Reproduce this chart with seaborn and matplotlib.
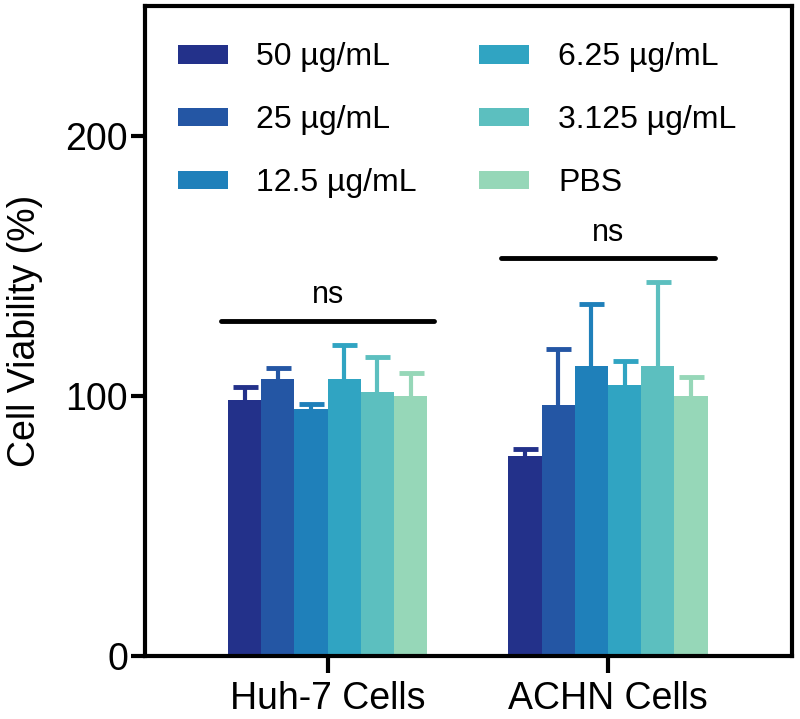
import numpy as np
import pandas as pd
import matplotlib
matplotlib.use("Agg")
import matplotlib.pyplot as plt
import seaborn as sns

# Data
cells = ["Huh-7 Cells", "ACHN Cells"]
conc_labels = ["50 µg/mL", "25 µg/mL", "12.5 µg/mL", "6.25 µg/mL", "3.125 µg/mL", "PBS"]
huh7_mean = [98.6, 106.6, 94.9, 106.6, 101.6, 100.2]
huh7_sd = [5.0, 4.1, 2.1, 13.2, 13.5, 8.5]
achn_mean = [76.8, 96.6, 111.5, 104.2, 111.4, 100.2]
achn_sd = [2.7, 21.4, 23.9, 9.1, 32.6, 7.0]
ns_heights = [129, 153]
colors = ["#23318A", "#2456A4", "#1F80BA", "#30A4C2", "#5CBFBF", "#96D7B8"]

rows = []
for cell, means, sds in [(cells[0], huh7_mean, huh7_sd), (cells[1], achn_mean, achn_sd)]:
    for conc, m, s in zip(conc_labels, means, sds):
        rows.append({"cell": cell, "conc": conc, "viability": m, "sd": s})
df = pd.DataFrame(rows)

sns.set_style("white")
plt.rcParams["font.family"] = ["Liberation Sans", "DejaVu Sans"]
plt.rcParams["text.color"] = "black"
plt.rcParams["axes.labelcolor"] = "black"
plt.rcParams["xtick.color"] = "black"
plt.rcParams["ytick.color"] = "black"

fig = plt.figure(figsize=(8, 7.19), dpi=100)
ax = fig.add_axes([0.181, 0.0876, 0.809, 0.904])

sns.barplot(data=df, x="cell", y="viability", hue="conc", order=cells,
            hue_order=conc_labels, palette=colors, width=0.71, gap=0,
            errorbar=None, saturation=1, linewidth=0, ax=ax)

# upward-only error bars, same colour as each bar
for container, col, conc in zip(ax.containers, colors, conc_labels):
    for bar, cell in zip(container, cells):
        sd = df.loc[(df.cell == cell) & (df.conc == conc), "sd"].values[0]
        xc = bar.get_x() + bar.get_width() / 2
        eb = ax.errorbar(xc, bar.get_height(), yerr=[[0], [sd]], fmt="none",
                         ecolor=col, elinewidth=3, capsize=9, capthick=3.5, zorder=1)
        eb[1][0].set_visible(False)  # hide the lower cap

# ns brackets
for i, h in enumerate(ns_heights):
    ax.plot([i - 0.38, i + 0.38], [h, h], color="black", lw=3.5, solid_capstyle="round")
    ax.text(i, h + 4, "ns", ha="center", va="bottom", fontsize=22)

ax.set_ylim(0, 250)
ax.set_xlim(-0.652, 1.656)
ax.set_yticks([0, 100, 200])
ax.set_xlabel("")
ax.set_ylabel("Cell Viability (%)", fontsize=27, labelpad=16)

for sp in ax.spines.values():
    sp.set_visible(True)
    sp.set_color("black")
    sp.set_linewidth(3)
ax.tick_params(axis="y", length=10, width=3, labelsize=27, left=True, pad=2)
ax.tick_params(axis="x", length=12, width=3, labelsize=27, bottom=True, pad=6)

handles, labels = ax.get_legend_handles_labels()
ax.legend(handles, labels, loc="upper left", bbox_to_anchor=(0.051, 0.944),
          ncol=2, frameon=False, fontsize=23, borderaxespad=0, borderpad=0,
          handlelength=1.56, handleheight=0.53, handletextpad=0.9,
          labelspacing=1.03, columnspacing=1.95)

fig.savefig("out.png", dpi=100)
